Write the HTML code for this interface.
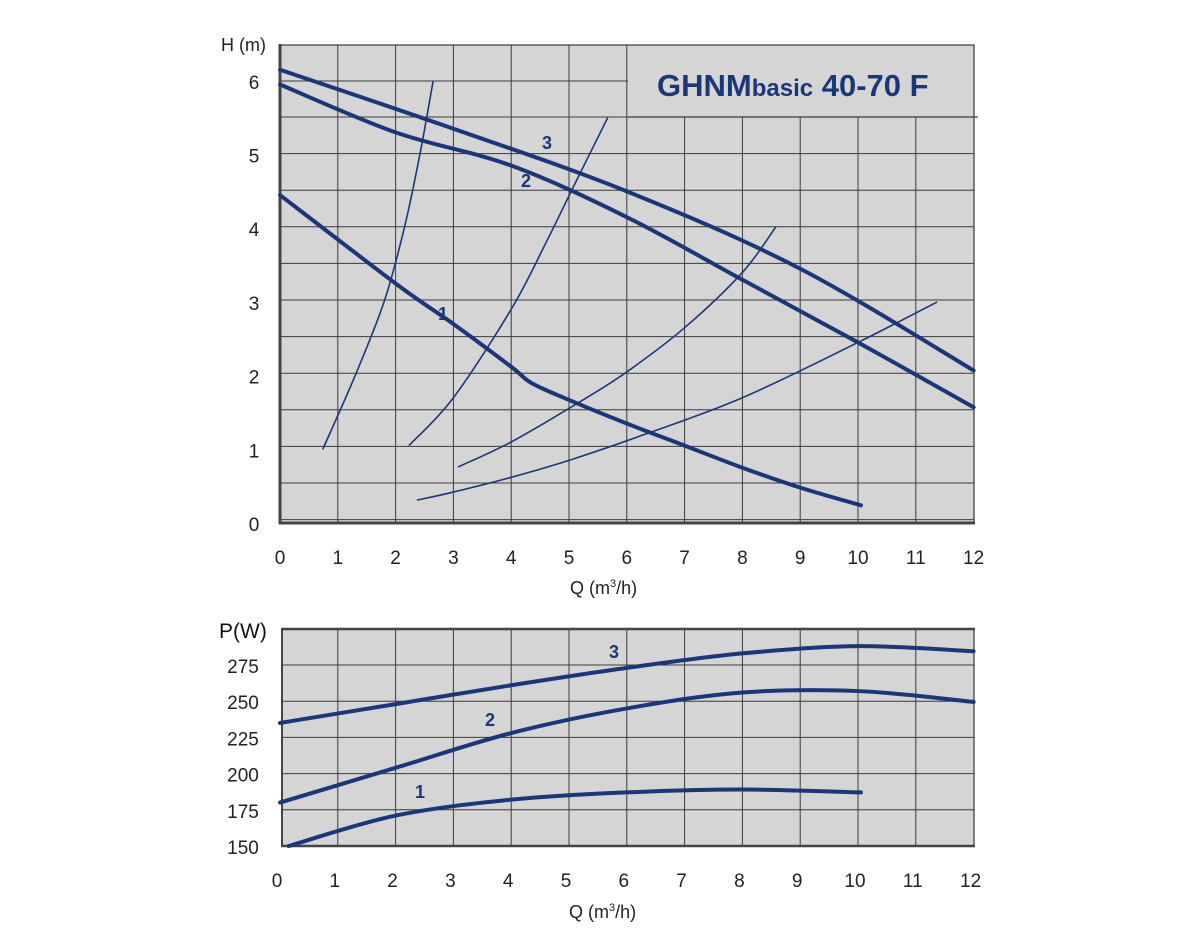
<!DOCTYPE html>
<html><head><meta charset="utf-8"><style>
body{margin:0;background:#fff;}
svg{display:block;font-family:"Liberation Sans",sans-serif;}
</style></head><body>
<svg id="s" width="1200" height="950" viewBox="0 0 1200 950">
</svg>
<script>
const NS="http://www.w3.org/2000/svg",s=document.getElementById('s');
function el(t,a,txt){const e=document.createElementNS(NS,t);for(const k in a)e.setAttribute(k,a[k]);if(txt!==undefined)e.textContent=txt;s.appendChild(e);return e;}
const X=q=>280+57.8*q;
const YH=h=>523-73.7*h;
const YP=p=>846-(p-150)*1.448;
function cr(pts){let d="M"+pts[0][0]+","+pts[0][1];for(let i=0;i<pts.length-1;i++){const p0=pts[i-1]||pts[i],p1=pts[i],p2=pts[i+1],p3=pts[i+2]||p2;
const c1=[p1[0]+(p2[0]-p0[0])/6,p1[1]+(p2[1]-p0[1])/6],c2=[p2[0]-(p3[0]-p1[0])/6,p2[1]-(p3[1]-p1[1])/6];
d+=" C"+c1.join(",")+" "+c2.join(",")+" "+p2.join(",");}return d;}
const C="#1c3777",G="#d5d5d5",L="#3a3a3a",T="#222";
el('rect',{x:280,y:45,width:694,height:478,fill:G});
for(let y=117;y<523;y+=36.6)el('line',{x1:280,x2:974,y1:y,y2:y,stroke:L,'stroke-width':1});
el('line',{x1:280,x2:628,y1:81,y2:81,stroke:L,'stroke-width':1});
el('line',{x1:628,x2:978,y1:117,y2:117,stroke:L,'stroke-width':1.3});
for(let q=1;q<12;q++){el('line',{x1:X(q),x2:X(q),y1:q>=6?(q==6?45:117):45,y2:523,stroke:L,'stroke-width':1});}
el('rect',{x:280,y:45,width:694,height:478,fill:'none',stroke:'#444','stroke-width':1.3});
el('line',{x1:280,x2:280,y1:44,y2:524,stroke:'#444','stroke-width':3});
el('line',{x1:279,x2:975,y1:523,y2:523,stroke:'#444','stroke-width':3});
const t=el('text',{x:657,y:96,fill:C,'font-weight':'bold','font-size':31});
t.innerHTML='GHNM<tspan font-size="24">basic</tspan> 40-70 F';
const sys=[[[0.74,1.0],[1.3,2],[1.8,3],[2.15,4],[2.42,5],[2.65,6]],
[[2.23,1.05],[3,1.7],[4,2.9],[4.6,3.8],[5.1,4.6],[5.67,5.5]],
[[3.08,0.76],[4,1.1],[5.2,1.65],[6,2.05],[7,2.65],[8,3.4],[8.58,4.02]],
[[2.37,0.31],[3,0.42],[4,0.62],[5,0.85],[6.3,1.2],[8,1.7],[10,2.45],[11.37,3.0]]];
sys.forEach(c=>el('path',{d:cr(c.map(p=>[X(p[0]),YH(p[1])])),fill:'none',stroke:C,'stroke-width':1.6}));
const hc=[[[0,6.15],[3,5.35],[6,4.5],[9,3.45],[12,2.07]],
[[0,5.95],[2,5.3],[4,4.85],[6,4.15],[8,3.3],[10,2.45],[12,1.57]],
[[0,4.45],[2,3.25],[3,2.7],[4,2.12],[4.35,1.9],[5,1.67],[6,1.35],[7,1.05],[8,0.75],[9,0.48],[10.05,0.24]]];
hc.forEach(c=>el('path',{d:cr(c.map(p=>[X(p[0]),YH(p[1])])),fill:'none',stroke:C,'stroke-width':4,'stroke-linecap':'round'}));
[['3',547,149],['2',526,187],['1',443,320]].forEach(a=>el('text',{x:a[1],y:a[2],fill:C,'font-weight':'bold','font-size':18,'text-anchor':'middle'},a[0]));
for(let h=0;h<=6;h++)el('text',{x:254,y:YH(h)+8,fill:T,'font-size':19,'text-anchor':'middle'},h);
el('text',{x:221,y:51,fill:T,'font-size':18},'H (m)');
for(let q=0;q<=12;q++)el('text',{x:X(q),y:564,fill:T,'font-size':19,'text-anchor':'middle'},q);
let qq=el('text',{x:570,y:594,fill:T,'font-size':18});qq.innerHTML='Q (m<tspan font-size="11" dy="-7">3</tspan><tspan dy="7">/h)</tspan>';
el('rect',{x:282,y:629,width:692,height:217,fill:G});
for(let p=175;p<=275;p+=25)el('line',{x1:282,x2:974,y1:YP(p),y2:YP(p),stroke:L,'stroke-width':1});
for(let q=1;q<12;q++)el('line',{x1:X(q),x2:X(q),y1:629,y2:846,stroke:L,'stroke-width':1});
el('rect',{x:282,y:629,width:692,height:217,fill:'none',stroke:'#444','stroke-width':1.3});
el('line',{x1:282,x2:975,y1:629,y2:629,stroke:'#444','stroke-width':2.5});
el('line',{x1:282,x2:282,y1:628,y2:847,stroke:'#444','stroke-width':2});
el('line',{x1:281,x2:975,y1:846,y2:846,stroke:'#444','stroke-width':2.5});
const pc=[[[0,235],[2,248],[4,261],[6,273],[8,283],[10,288],[12,284.5]],
[[0,180],[2,204],[4,228],[6,245],[8,256],[10,257],[12,249.5]],
[[0.15,150],[2,171],[4,182],[6,187],[8,189],[10.05,187]]];
pc.forEach(c=>el('path',{d:cr(c.map(p=>[X(p[0]),YP(p[1])])),fill:'none',stroke:C,'stroke-width':4,'stroke-linecap':'round'}));
[['3',614,658],['2',490,726],['1',420,798]].forEach(a=>el('text',{x:a[1],y:a[2],fill:C,'font-weight':'bold','font-size':18,'text-anchor':'middle'},a[0]));
for(let p=150;p<=275;p+=25)el('text',{x:243,y:YP(p)+8,fill:T,'font-size':19,'text-anchor':'middle'},p);
el('text',{x:219,y:638,fill:'#111','font-size':21},'P(W)');
for(let q=0;q<=12;q++)el('text',{x:X(q)-3,y:887,fill:T,'font-size':19,'text-anchor':'middle'},q);
qq=el('text',{x:569,y:918,fill:T,'font-size':18});qq.innerHTML='Q (m<tspan font-size="11" dy="-7">3</tspan><tspan dy="7">/h)</tspan>';
</script>
</body></html>
